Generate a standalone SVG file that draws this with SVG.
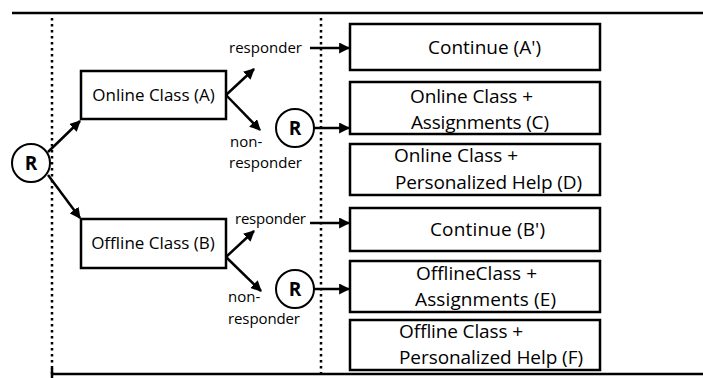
<svg xmlns="http://www.w3.org/2000/svg" width="703" height="378" viewBox="0 0 703 378">
<defs>
<marker id="ah" viewBox="0 0 10 10" refX="9" refY="5" markerWidth="11" markerHeight="11" markerUnits="userSpaceOnUse" orient="auto">
<path d="M0,0 L10,5 L0,10 z" fill="#000"/>
</marker>
</defs>
<style>
text{font-family:"Open Sans","Liberation Sans",sans-serif;fill:#000}
.bx{fill:#fff;stroke:#000;stroke-width:2.5}
.t{font-size:17px;text-anchor:middle}
.u{font-size:19px}
.s{font-size:15px}
.r{font-size:19px;font-weight:bold;text-anchor:middle}
.c{fill:#fff;stroke:#000;stroke-width:2}
.ln{stroke:#000;stroke-width:2.5;fill:none}
.ar{stroke:#000;stroke-width:2.5;fill:none;marker-end:url(#ah)}
.dot{stroke:#000;stroke-width:2.5;stroke-dasharray:2.5 3.5;fill:none}
</style>
<g id="frame">
<line class="ln" x1="12" y1="13" x2="703" y2="13"/>
<line class="ln" x1="52" y1="374" x2="703" y2="374"/>
<line class="ln" x1="52" y1="368" x2="52" y2="378"/>
<line class="dot" x1="52" y1="18" x2="52" y2="374"/>
<line class="dot" x1="321" y1="18" x2="321" y2="378"/>
</g>
<g id="connectors">
<line class="ar" x1="48" y1="152" x2="80" y2="121"/>
<line class="ar" x1="48" y1="175" x2="80" y2="218"/>
<line class="ar" x1="226" y1="95" x2="254" y2="69"/>
<line class="ar" x1="226" y1="95" x2="260" y2="130"/>
<line class="ar" x1="226" y1="257" x2="254" y2="231"/>
<line class="ar" x1="226" y1="257" x2="261" y2="291"/>
<line class="ar" x1="310" y1="48" x2="349" y2="48"/>
<line class="ar" x1="314" y1="128" x2="349" y2="128"/>
<line class="ar" x1="310" y1="223" x2="349" y2="223"/>
<line class="ar" x1="314" y1="289" x2="349" y2="289"/>
<text class="s" x="229" y="53" textLength="73">responder</text>
<text class="s" x="230" y="147">non-</text>
<text class="s" x="229" y="168" textLength="73">responder</text>
<text class="s" x="235" y="224" textLength="71">responder</text>
<text class="s" x="228" y="302">non-</text>
<text class="s" x="228" y="324" textLength="72">responder</text>
</g>
<g id="R0"><circle class="c" cx="31" cy="163" r="19"/><text class="r" x="31" y="170">R</text></g>
<g id="R1"><circle class="c" cx="295" cy="128" r="19"/><text class="r" x="295" y="135">R</text></g>
<g id="R2"><circle class="c" cx="295" cy="289" r="19"/><text class="r" x="295" y="296">R</text></g>
<g id="A"><rect class="bx" x="81" y="71" width="145" height="48"/><text class="t" x="153.5" y="101">Online Class (A)</text></g>
<g id="B"><rect class="bx" x="81" y="219" width="145" height="49"/><text class="t" x="153" y="249">Offline Class (B)</text></g>
<g id="Ap"><rect class="bx" x="350" y="24" width="250" height="46"/><text class="u" x="428" y="53.5" textLength="113">Continue (A')</text></g>
<g id="C"><rect class="bx" x="350" y="82" width="250" height="52"/><text class="u" x="410" y="102.5" textLength="123">Online Class +</text><text class="u" x="411" y="128.5" textLength="138">Assignments (C)</text></g>
<g id="D"><rect class="bx" x="350" y="144" width="250" height="51"/><text class="u" x="394" y="161.5" textLength="124">Online Class  +</text><text class="u" x="395" y="188.5" textLength="187">Personalized Help (D)</text></g>
<g id="Bp"><rect class="bx" x="350" y="208" width="250" height="43"/><text class="u" x="430" y="235.5" textLength="115">Continue (B')</text></g>
<g id="E"><rect class="bx" x="350" y="261" width="250" height="51"/><text class="u" x="416" y="279.5" textLength="121">OfflineClass +</text><text class="u" x="415" y="305.5" textLength="141">Assignments  (E)</text></g>
<g id="F"><rect class="bx" x="350" y="320" width="250" height="50"/><text class="u" x="399" y="337.5" textLength="124">Offline Class +</text><text class="u" x="399" y="363.5" textLength="184">Personalized Help (F)</text></g>
</svg>
